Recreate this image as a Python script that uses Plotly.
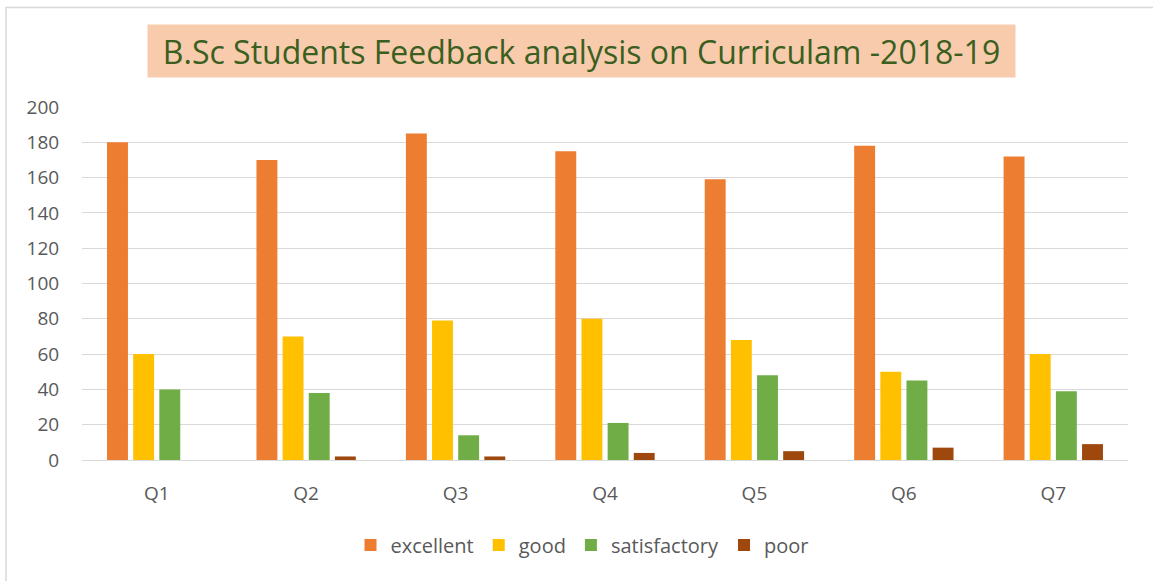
import plotly.graph_objects as go

categories = ["Q1", "Q2", "Q3", "Q4", "Q5", "Q6", "Q7"]
excellent = [180, 170, 185, 175, 159, 178, 172]
good = [60, 70, 79, 80, 68, 50, 60]
satisfactory = [40, 38, 14, 21, 48, 45, 39]
poor = [0, 2, 2, 4, 5, 7, 9]
series_names = ["excellent", "good", "satisfactory", "poor"]
colors = ["#ED7D31", "#FFC000", "#70AD47", "#9E480E"]
y_ticks = [0, 20, 40, 60, 80, 100, 120, 140, 160, 180, 200]

fig = go.Figure()
for name, vals, col in zip(series_names, [excellent, good, satisfactory, poor], colors):
    fig.add_trace(go.Bar(x=categories, y=vals, name=name, marker=dict(color=col, line=dict(width=0))))

L, R, T, B = 82, 25, 107, 121
W, H = 1153, 581
pw, ph = W - L - R, H - T - B

def px_x(x):
    return (x - L) / pw

def px_y(y):
    return (H - B - y) / ph

FONT = "'Open Sans', Lato, sans-serif"

fig.update_layout(
    width=W, height=H,
    margin=dict(l=L, r=R, t=T, b=B),
    paper_bgcolor="white", plot_bgcolor="white",
    barmode="group", bargap=0.3, bargroupgap=0.2,
    font=dict(family=FONT, color="#595959"),
    showlegend=True,
    legend=dict(orientation="h", x=px_x(582), xanchor="center", y=px_y(545), yanchor="middle",
                font=dict(size=20, color="#595959"), traceorder="normal"),
    xaxis=dict(showgrid=False, showline=False, ticks="outside", ticklen=16,
               tickcolor="rgba(0,0,0,0)", tickfont=dict(size=19, color="#595959")),
    yaxis=dict(range=[0, 200], tickvals=y_ticks, showgrid=True, gridcolor="#D9D9D9", gridwidth=1,
               zeroline=True, zerolinecolor="#D9D9D9", zerolinewidth=1, showline=False,
               tickfont=dict(size=19, color="#595959"), ticks="outside", ticklen=18,
               tickcolor="rgba(0,0,0,0)"),
    annotations=[dict(
        text="B.Sc Students Feedback analysis on Curriculam -2018-19",
        xref="paper", yref="paper", x=px_x(581.5), y=px_y(51), xanchor="center", yanchor="middle",
        showarrow=False, bgcolor="#F8CBAD", width=859, height=44, borderpad=4,
        font=dict(family=FONT, size=32, color="#3A5F1E"),
    )],
    shapes=[dict(type="rect", xref="paper", yref="paper",
                 x0=px_x(6), x1=px_x(1170), y0=px_y(600), y1=px_y(7.5),
                 line=dict(color="#D9D9D9", width=1.5), fillcolor="rgba(0,0,0,0)", layer="below")],
)

fig.write_html("out.html", config={"displayModeBar": False},
               post_script="document.body.style.margin='0';document.body.style.overflow='hidden';")
